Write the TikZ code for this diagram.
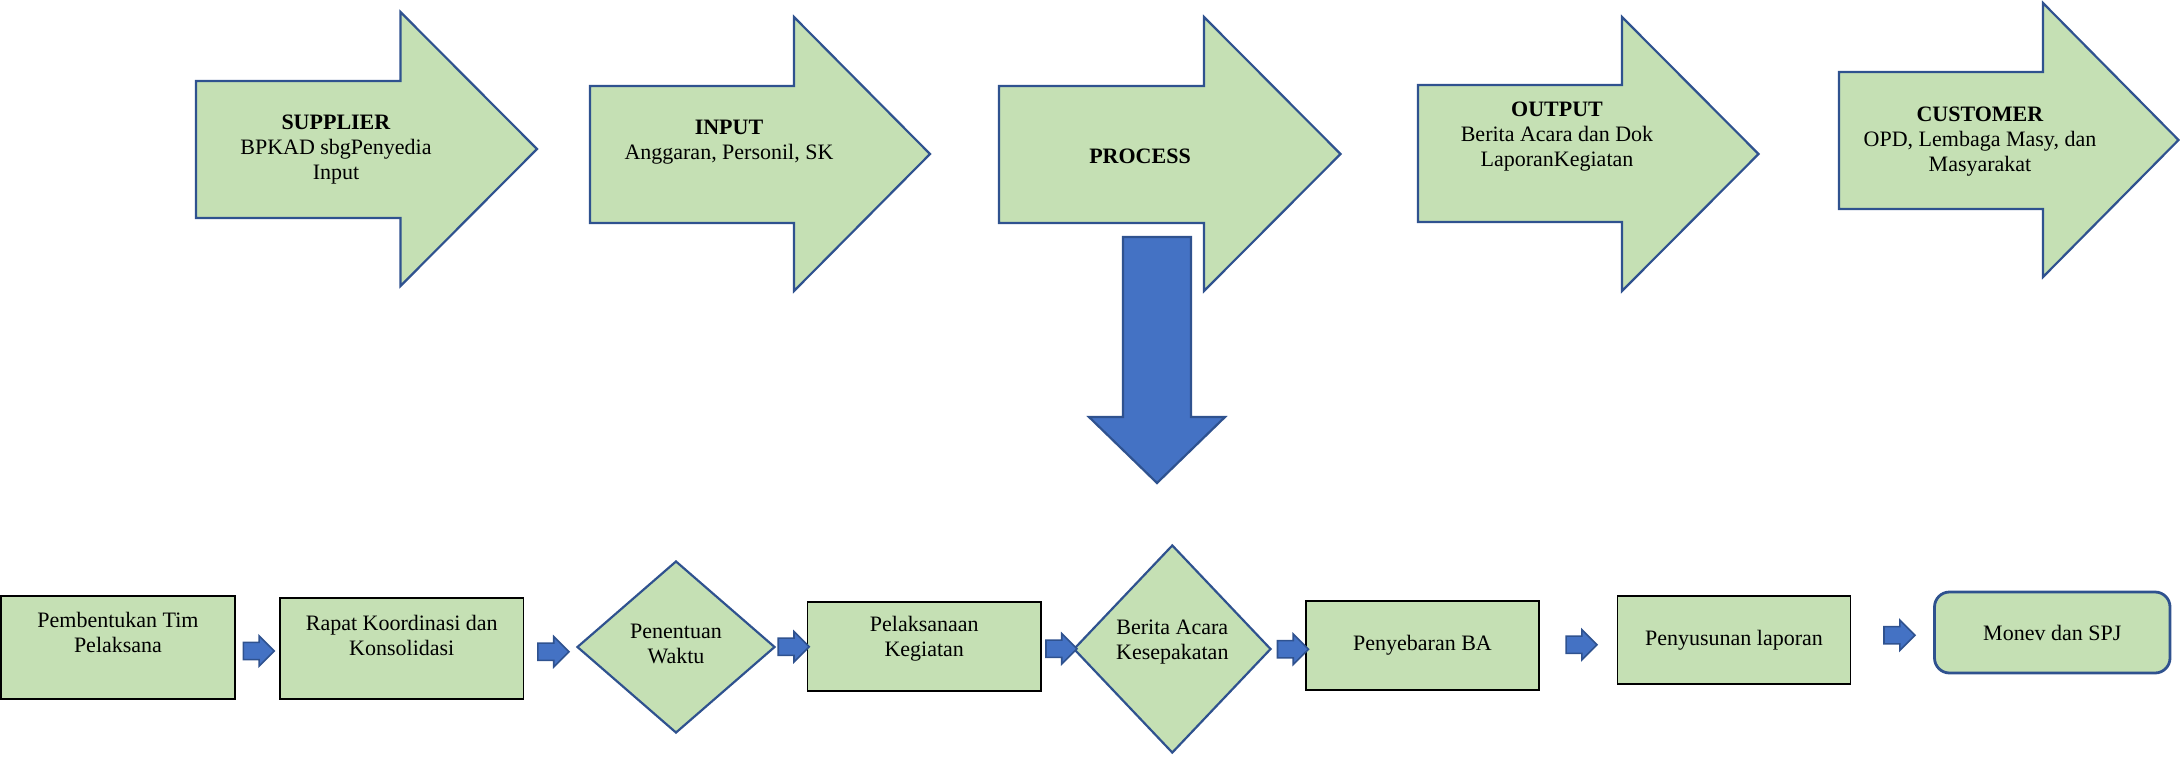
\documentclass[tikz,border=0pt]{standalone}
\usepackage{fontspec}
\setmainfont{Liberation Serif}
\usetikzlibrary{positioning,calc,shapes.geometric,shapes.arrows}

\definecolor{leaf}{HTML}{C5E0B4}
\definecolor{navy}{HTML}{2F528F}
\definecolor{royal}{HTML}{4472C4}

\begin{document}
\begin{tikzpicture}[x=0.5pt,y=-0.5pt,
    font=\fontsize{11}{12.5}\selectfont,
    bigarrow/.style={draw=navy,fill=leaf,line width=1.1pt,line join=miter},
    downarrow/.style={draw=navy,fill=royal,line width=1.1pt,line join=miter},
    headtxt/.style={align=center,inner sep=0pt},
    box/.style={rectangle,draw=black,fill=leaf,line width=0.8pt,align=center,inner sep=0pt},
    choice/.style={diamond,draw=navy,fill=leaf,line width=1.1pt,align=center,inner sep=0pt},
    finish/.style={rectangle,rounded corners=7.5pt,draw=navy,fill=leaf,line width=1.4pt,align=center,inner sep=0pt},
    link/.style={single arrow,draw=navy,fill=royal,line width=0.8pt,inner sep=0pt,inner ysep=3.9pt,
        single arrow head extend=3.3pt,minimum height=15.5pt,minimum width=0pt}]
    \useasboundingbox (0,0) rectangle (2180,756);

    % SIPOC arrows
    \draw[bigarrow] (196,81) -- ++(204.5,0) -- ++(0,-69) -- ++(136.5,137) -- ++(-136.5,137) -- ++(0,-68) -- ++(-204.5,0) -- cycle;
    \draw[bigarrow] (590,86) -- ++(204,0) -- ++(0,-69) -- ++(136,137) -- ++(-136,137) -- ++(0,-68) -- ++(-204,0) -- cycle;
    \draw[bigarrow] (999,86) -- ++(205,0) -- ++(0,-69) -- ++(136.5,137) -- ++(-136.5,137) -- ++(0,-68) -- ++(-205,0) -- cycle;
    \draw[bigarrow] (1418,85) -- ++(204,0) -- ++(0,-68) -- ++(136.5,137) -- ++(-136.5,137) -- ++(0,-69) -- ++(-204,0) -- cycle;
    \draw[bigarrow] (1839,72) -- ++(204,0) -- ++(0,-69) -- ++(135.5,137) -- ++(-135.5,137) -- ++(0,-68) -- ++(-204,0) -- cycle;

    \node[headtxt] (sup) at (336,150) {\textbf{SUPPLIER}\\BPKAD sbgPenyedia\\Input};
    \node[headtxt] (inp) at (729,142) {\textbf{INPUT}\\Anggaran, Personil, SK};
    \node[headtxt] (proc) at (1140,156) {\textbf{PROCESS}};
    \node[headtxt] (outp) at (1557,137) {\textbf{OUTPUT}\\Berita Acara dan Dok\\LaporanKegiatan};
    \node[headtxt] (cust) at (1980,142) {\textbf{CUSTOMER}\\OPD, Lembaga Masy, dan\\Masyarakat};

    % process goes down
    \draw[downarrow] (1123,237) -- (1191,237) -- (1191,417) -- (1225,417) -- (1157,483) -- (1089,417) -- (1123,417) -- cycle;

    % process steps
    \node[box,minimum width=117pt,minimum height=51.5pt,text depth=15pt] (tim) at (118,647.5) {Pembentukan Tim\\Pelaksana};
    \node[box,minimum width=121.75pt,minimum height=50.5pt,text depth=13pt] (rapat) at (401.75,648.5) {Rapat Koordinasi dan\\Konsolidasi};
    \node[choice,minimum width=99pt,minimum height=86pt,text depth=3.5pt] (waktu) at (676,647) {Penentuan\\Waktu};
    \node[box,minimum width=116.75pt,minimum height=44.5pt,text depth=10.4pt] (laksana) at (924.25,646.5) {Pelaksanaan\\Kegiatan};
    \node[choice,minimum width=98.7pt,minimum height=104pt,text depth=9.4pt] (berita) at (1172.3,649) {Berita Acara\\Kesepakatan};
    \node[box,minimum width=116.5pt,minimum height=44.5pt] (sebar) at (1422.5,645.5) {Penyebaran BA};
    \node[box,minimum width=116.5pt,minimum height=44pt] (susun) at (1734,640) {Penyusunan laporan};
    \node[finish,minimum width=117.75pt,minimum height=40.5pt] (monev) at (2052.25,632.5) {Monev dan SPJ};

    \node[link] (a1) at ($(tim.east)!.5!(rapat.west)+(-3,3)$) {};
    \node[link] (a2) at ($(rapat.east)!.5!(waktu.west)+(-1,4)$) {};
    \node[link] (a3) at ($(waktu.east)!.5!(laksana.west)+(-2,0)$) {};
    \node[link] (a4) at ($(laksana.east)!.5!(berita.west)+(0,1)$) {};
    \node[link] (a5) at ($(berita.east)!.5!(sebar.west)+(0,2)$) {};
    \node[link] (a6) at ($(sebar.east)!.5!(susun.west)+(-1,2)$) {};
    \node[link] (a7) at ($(susun.east)!.5!(monev.west)+(3,-1)$) {};
\end{tikzpicture}
\end{document}
